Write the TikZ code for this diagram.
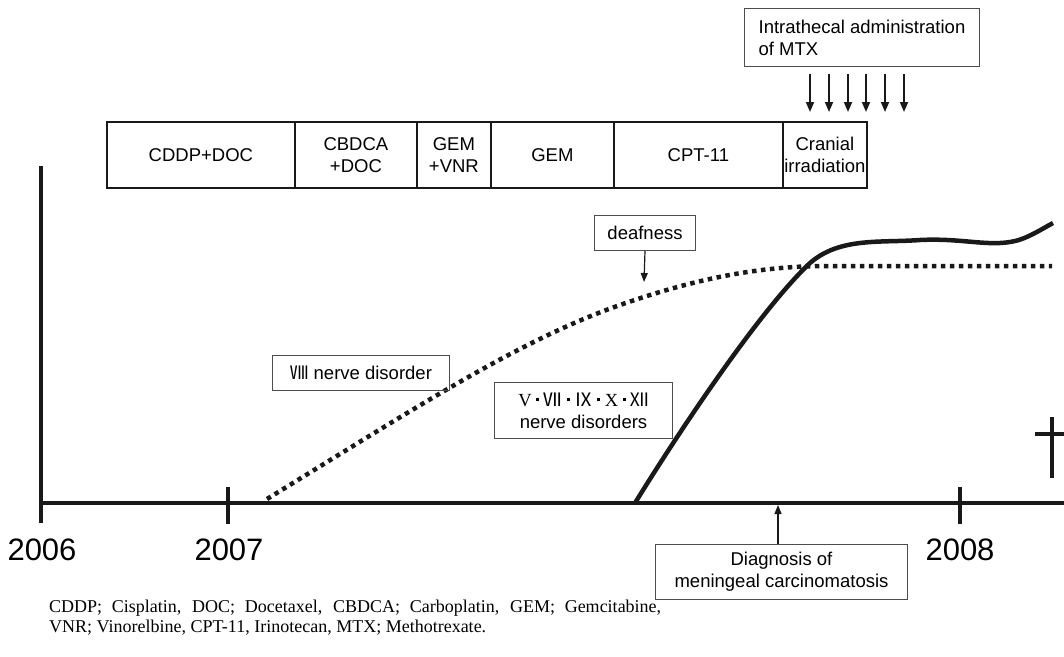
\documentclass[tikz,border=0pt]{standalone}
\usepackage{fontspec}
\setmainfont{Liberation Sans}
\newfontfamily\capfont{Liberation Serif}
\newfontfamily\romfont[RawFeature=+palt]{Noto Sans CJK JP}
\newcommand\rdot{\hspace{4.5pt}\rule[5pt]{3pt}{3pt}\hspace{4.5pt}}
\usetikzlibrary{arrows.meta}
\begin{document}
\begin{tikzpicture}[x=1pt,y=-1pt,
  treat/.style={draw=black!90, line width=1.8pt, inner sep=0pt, align=center,
    font=\fontsize{18.5}{22}\selectfont, anchor=north west, minimum height=66pt},
  lbl/.style={draw=black!70, line width=1pt, inner sep=0pt, align=center,
    font=\fontsize{18.5}{22}\selectfont, anchor=north west},
  axisline/.style={line width=4pt, black!90},
  solidcurve/.style={line width=4.5pt, black!90},
  dotcurve/.style={line width=4.5pt, black!90, dash pattern=on 4.5pt off 4.5pt},
  yearlbl/.style={font=\fontsize{31}{31}\selectfont, inner sep=0pt},
  mtxarrow/.style={line width=1.8pt, black!90, -{Triangle[length=10pt,width=8pt]}},
  thinarrow/.style={line width=1.2pt, black!90, -{Triangle[length=9pt,width=7pt]}},
]
\useasboundingbox (0,0) rectangle (1064,656);

% treatment boxes
\node[treat, minimum width=188pt] (cddp) at (106,121) {CDDP+DOC};
\node[treat, minimum width=122pt] (cbdca) at (294,121) {CBDCA\\+DOC};
\node[treat, minimum width=74pt] (gemvnr) at (416,121) {GEM\\+VNR};
\node[treat, minimum width=123pt] (gem) at (490,121) {GEM};
\node[treat, minimum width=169pt] (cpt) at (613,121) {CPT-11};
\node[treat, minimum width=84pt] (cran) at (782,121) {Cranial\\irradiation};

% intrathecal MTX
\node[lbl, align=left, minimum width=235pt, minimum height=58pt] (itmtx) at (744,8)
  {Intrathecal administration\\of MTX};
\foreach \i/\x in {1/810,2/829,3/848,4/866,5/885,6/904}{
  \coordinate (mt\i) at (\x,74);
  \coordinate (mb\i) at (\x,112);
  \draw[mtxarrow] (mt\i) -- (mb\i);
}

% axes
\coordinate (ytop) at (41,166);
\coordinate (ybot) at (41,523);
\coordinate (x0) at (39,503);
\coordinate (x1) at (1064,503);
\draw[axisline] (ytop) -- (ybot);
\draw[axisline] (x0) -- (x1);
\coordinate (t7a) at (228,487); \coordinate (t7b) at (228,524);
\coordinate (t8a) at (960,487); \coordinate (t8b) at (960,524);
\draw[axisline] (t7a) -- (t7b);
\draw[axisline] (t8a) -- (t8b);

\node[yearlbl] (y2006) at (42,550) {2006};
\node[yearlbl] (y2007) at (229,550) {2007};
\node[yearlbl] (y2008) at (960,550) {2008};

% curves
\draw[dotcurve] (267,499) .. controls (420,405) and (520,340) .. (620,305)
  .. controls (700,277) and (760,267) .. (820,266) -- (1052,266);
\draw[solidcurve] (635,503) .. controls (680,430) and (760,310) .. (810,263)
  .. controls (840,237) and (880,243) .. (920,240)
  .. controls (960,238) and (985,246) .. (1010,242)
  .. controls (1025,240) and (1040,230) .. (1053,223);

% labels
\node[lbl, minimum width=101pt, minimum height=35pt] (deaf) at (594,215) {deafness};
\coordinate (deaftip) at (644,282);
\draw[thinarrow] (deaf.south) -- (deaftip);

\node[lbl, minimum width=177pt, minimum height=35pt] (viii) at (272,355)
  {{\romfont Ⅷ} nerve disorder};
\node[lbl, minimum width=178pt, minimum height=56pt] (vnerve) at (494,382)
  {{\capfont V}\rdot{\romfont Ⅶ}\rdot{\romfont Ⅸ}\rdot{\capfont X}\rdot{\romfont Ⅻ}\\nerve disorders};

\node[lbl, minimum width=252pt, minimum height=55pt] (diag) at (655,544)
  {Diagnosis of\\meningeal carcinomatosis};
\coordinate (diagtip) at (778,505);
\draw[thinarrow] (diag.north -| diagtip) -- (diagtip);

% death mark
\coordinate (dga) at (1052,417); \coordinate (dgb) at (1052,478);
\coordinate (dgc) at (1035,434); \coordinate (dgd) at (1064,434);
\draw[axisline] (dga) -- (dgb);
\draw[axisline] (dgc) -- (dgd);

% caption
\node[anchor=base west, align=left, inner sep=0pt,
  font=\capfont\fontsize{18}{20}\selectfont] (cap) at (49,632)
  {\makebox[612pt][s]{CDDP; Cisplatin, DOC; Docetaxel, CBDCA; Carboplatin, GEM; Gemcitabine,}\\
   VNR; Vinorelbine, CPT-11, Irinotecan, MTX; Methotrexate.};
\end{tikzpicture}
\end{document}
